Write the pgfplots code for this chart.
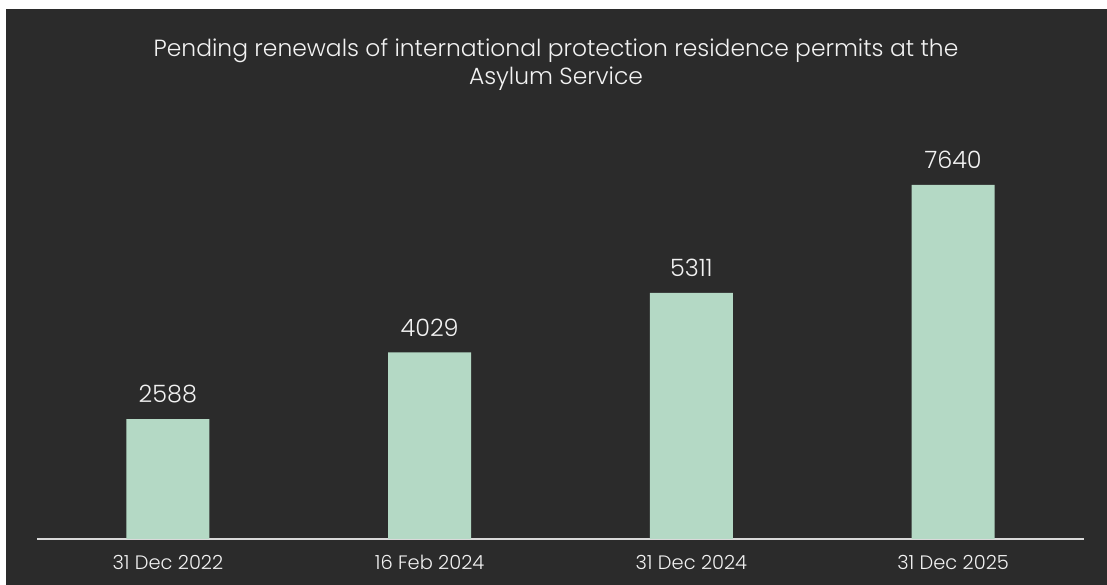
\documentclass[border=0pt]{standalone}
\usepackage{fontspec}
\setmainfont{Poppins}[UprightFont=* Light]
\usepackage{pgfplots}
\pgfplotsset{compat=1.18}
\definecolor{bg}{HTML}{2B2B2B}
\definecolor{barc}{HTML}{B4D9C5}
\definecolor{axisc}{HTML}{D9D9D9}
\definecolor{txt}{HTML}{F2F2F2}
\begin{document}
\begin{tikzpicture}[x=1bp,y=1bp]
\fill[white] (0,0) rectangle (1107,585);
\fill[bg] (6,0) rectangle (1107,576);
\node[txt, align=center, font=\fontsize{23.5}{28}\selectfont, inner sep=0pt] at (556,520) {Pending renewals of international protection residence permits at the\\Asylum Service};
\begin{axis}[
  at={(37bp,46bp)}, anchor=south west,
  scale only axis, width=1047bp, height=409bp,
  xmin=-0.5, xmax=3.5, ymin=0, ymax=8827,
  axis x line*=bottom, axis y line=none,
  x axis line style={axisc, line width=2bp, -},
  xtick=data, xtick style={draw=none},
  xticklabels={31 Dec 2022,16 Feb 2024,31 Dec 2024,31 Dec 2025},
  xticklabel style={txt, font=\fontsize{19.5}{22}\selectfont, inner sep=0pt, anchor=north, yshift=-12bp},
  ytick=\empty,
  ybar, bar width=83bp,
  nodes near coords,
  /pgf/number format/assume math mode=true,
  /pgf/number format/.cd, fixed, precision=0, 1000 sep={}, /pgfplots/.cd,
  nodes near coords style={txt, font=\fontsize{24}{28}\selectfont, inner sep=0pt, anchor=south, yshift=16bp},
]
\addplot[fill=barc, draw=none] coordinates {(0,2588) (1,4029) (2,5311) (3,7640)};
\end{axis}
\end{tikzpicture}
\end{document}
